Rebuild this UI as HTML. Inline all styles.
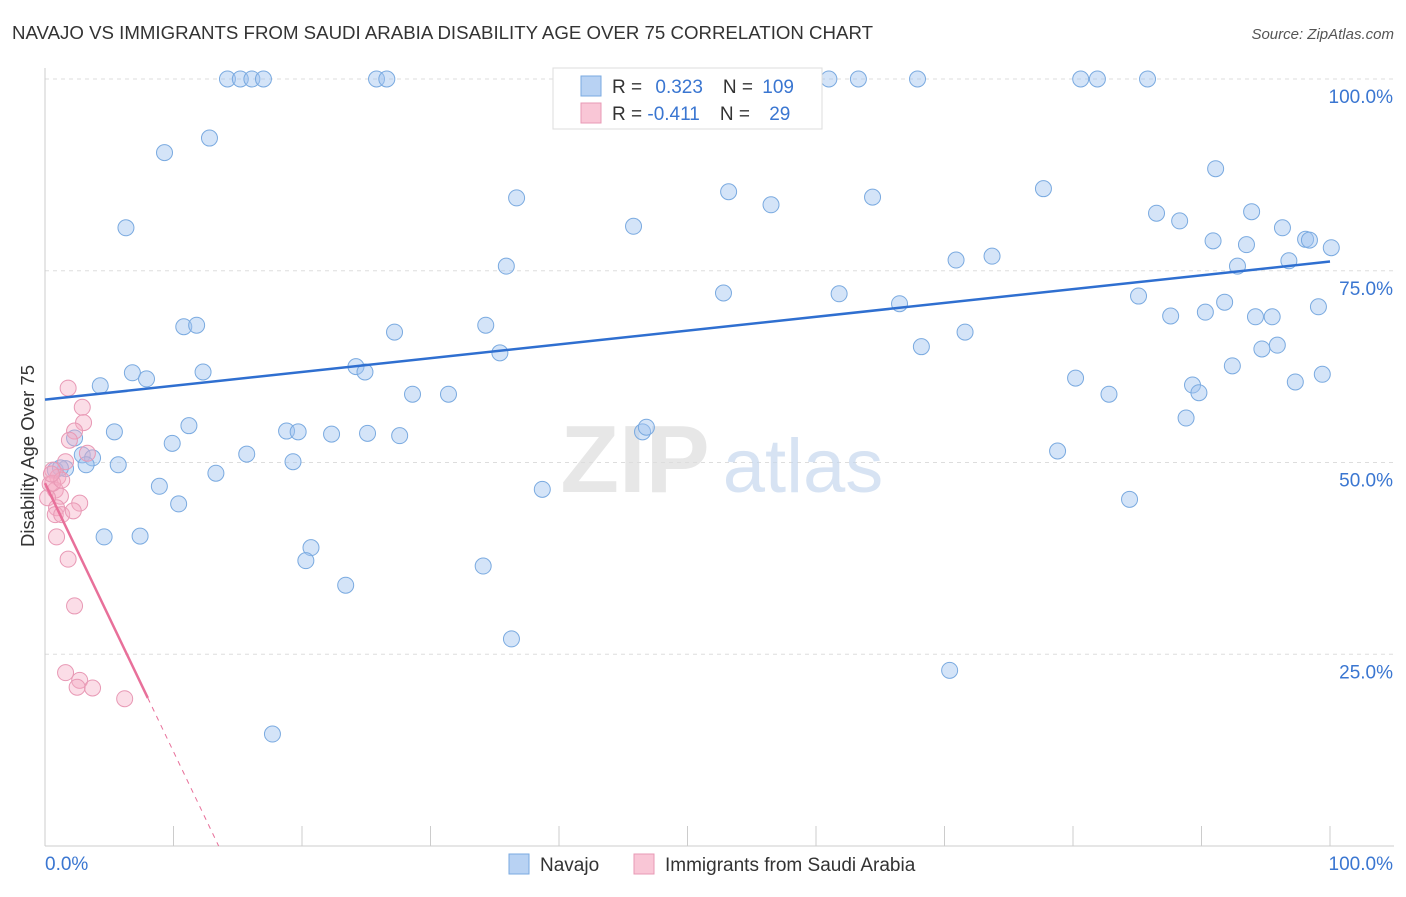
<!DOCTYPE html>
<html><head><meta charset="utf-8">
<style>
body{margin:0;background:#fff;font-family:"Liberation Sans",sans-serif;}
svg text{font-family:"Liberation Sans",sans-serif;}
</style></head>
<body>
<svg id="chart" width="1406" height="892" viewBox="0 0 1406 892">
<text x="12" y="39" font-size="18" fill="#333" textLength="861" lengthAdjust="spacingAndGlyphs">NAVAJO VS IMMIGRANTS FROM SAUDI ARABIA DISABILITY AGE OVER 75 CORRELATION CHART</text>
<text x="1394" y="39" font-size="15" fill="#555" font-style="italic" text-anchor="end">Source: ZipAtlas.com</text>
<g id="grid"></g>
<g id="watermark">
<text x="635" y="492" font-size="96" fill="#ddd" font-family="Liberation Serif" text-anchor="middle" font-weight="bold" opacity="0.7">ZIP</text>
<text x="803" y="492" font-size="76" fill="#c7d8ee" text-anchor="middle" opacity="0.7">atlas</text>
</g>
<g id="axes"></g>
<g id="marks"></g>
<text transform="translate(34,456) rotate(-90)" font-size="18.5" fill="#333" text-anchor="middle">Disability Age Over 75</text>
<g>
<rect x="553" y="68" width="269" height="61" fill="#fff" stroke="#ddd"/>
<rect x="581" y="76" width="20" height="20" fill="#b8d2f3" stroke="#7aaae0"/>
<rect x="581" y="103" width="20" height="20" fill="#f9c6d6" stroke="#e899b5"/>
<text x="612" y="93" font-size="19" fill="#333">R = <tspan fill="#3a76d1" dx="8">0.323</tspan><tspan dx="20" fill="#333">N = </tspan><tspan fill="#3a76d1" dx="4">109</tspan></text>
<text x="612" y="120" font-size="19" fill="#333">R = <tspan fill="#3a76d1">-0.411</tspan><tspan dx="20" fill="#333">N = </tspan><tspan fill="#3a76d1" dx="14">29</tspan></text>
</g>
<g>
<rect x="509" y="854" width="20" height="20" fill="#b8d2f3" stroke="#7aaae0"/>
<text x="540" y="871" font-size="19" fill="#333">Navajo</text>
<rect x="634" y="854" width="20" height="20" fill="#f9c6d6" stroke="#e899b5"/>
<text x="665" y="871" font-size="19" fill="#333">Immigrants from Saudi Arabia</text>
</g>
</svg>
<script>
const yTicks=[25,50,75,100];
const yTickLabels=["25.0%","50.0%","75.0%","100.0%"];
const xTicks=[0,10,20,30,40,50,60,70,80,90,100];
const navajoX=[14.2,15.2,16.1,17.0,25.8,26.6,40.6,61.0,63.3,67.9,80.6,81.9,85.8,12.8,9.3,6.3,36.7,53.2,56.5,64.4,77.7,91.1,45.8,86.5,88.3,93.9,90.9,93.5,96.3,98.1,98.4,100.1,35.9,70.9,73.7,92.8,96.8,52.8,61.8,66.5,85.1,91.8,87.6,90.3,94.2,95.5,99.1,10.8,11.8,27.2,34.3,71.6,68.2,94.7,95.9,35.4,92.4,99.4,97.3,24.2,24.9,6.8,7.9,12.3,4.3,28.6,31.4,80.2,82.8,89.3,89.8,88.8,5.4,11.2,18.8,19.7,22.3,25.1,27.6,46.5,46.8,9.9,2.3,15.7,19.3,2.9,3.7,3.2,5.7,1.6,0.8,1.2,13.3,78.8,8.9,38.7,84.4,10.4,4.6,7.4,20.7,20.3,23.4,34.1,36.3,70.4,17.7];
const navajoY=[100,100,100,100,100,100,100,100,100,100,100,100,100,92.3,90.4,80.6,84.5,85.3,83.6,84.6,85.7,88.3,80.8,82.5,81.5,82.7,78.9,78.4,80.6,79.1,79.0,78.0,75.6,76.4,76.9,75.6,76.3,72.1,72.0,70.7,71.7,70.9,69.1,69.6,69.0,69.0,70.3,67.7,67.9,67.0,67.9,67.0,65.1,64.8,65.3,64.3,62.6,61.5,60.5,62.5,61.8,61.7,60.9,61.8,60.0,58.9,58.9,61.0,58.9,60.1,59.1,55.8,54.0,54.8,54.1,54.0,53.7,53.8,53.5,54.0,54.6,52.5,53.2,51.1,50.1,51.0,50.6,49.7,49.7,49.2,49.0,49.3,48.6,51.5,46.9,46.5,45.2,44.6,40.3,40.4,38.9,37.2,34.0,36.5,27.0,22.9,14.6];
const saudiX=[1.8,2.9,3.0,2.3,1.9,3.3,1.6,0.6,1.0,0.4,0.8,1.2,0.2,2.7,0.9,0.8,1.3,2.2,0.9,1.8,2.3,1.6,2.7,2.5,3.7,6.2,0.6,1.3,0.5];
const saudiY=[59.7,57.2,55.2,54.1,52.9,51.2,50.1,49.0,48.1,47.2,46.4,45.6,45.4,44.7,44.1,43.2,43.2,43.7,40.3,37.4,31.3,22.6,21.6,20.7,20.6,19.2,47.3,47.7,48.5];
const navajoTrend=[58.2,76.2];
const saudiTrend=[47.3,-3.5];
const saudiSolidEnd=8;

const X0=45,X1=1330,Y0=846,Y100=79;
const sx=v=>X0+(X1-X0)*v/100;
const sy=v=>Y0-(Y0-Y100)*v/100;
const NS="http://www.w3.org/2000/svg";
function mk(tag,attrs,parent){const e=document.createElementNS(NS,tag);for(const k in attrs)e.setAttribute(k,attrs[k]);parent.appendChild(e);return e;}
const grid=document.getElementById('grid'),axes=document.getElementById('axes'),marks=document.getElementById('marks');
yTicks.forEach((t,i)=>{
  const l=mk('line',{x1:45,x2:1394,y1:sy(t),y2:sy(t),stroke:'#ddd','stroke-dasharray':'4,4'},grid);
  
  
  const tx=mk('text',{x:1393,y:sy(t)+24,'font-size':19,fill:'#3a76d1','text-anchor':'end'},axes);
  tx.textContent=yTickLabels[i];
  
  
});
const ax=mk('line',{x1:45,x2:45,y1:68,y2:846,stroke:'#ccc'},axes);


const bx=mk('line',{x1:45,x2:1394,y1:846,y2:846,stroke:'#ccc'},axes);


xTicks.forEach(t=>{
  const l=mk('line',{x1:sx(t),x2:sx(t),y1:826,y2:846,stroke:'#ccc'},axes);
  
  
});
const xl0=mk('text',{x:45,y:870,'font-size':19,fill:'#3a76d1'},axes);xl0.textContent='0.0%';


const xl1=mk('text',{x:1393,y:870,'font-size':19,fill:'#3a76d1','text-anchor':'end'},axes);xl1.textContent='100.0%';



navajoX.forEach((x,i)=>{
  const c=mk('circle',{cx:sx(x),cy:sy(navajoY[i]),r:8,fill:'rgba(160,196,240,0.45)',stroke:'#7aaae0','stroke-width':1},marks);
  
  
});
saudiX.forEach((x,i)=>{
  const c=mk('circle',{cx:sx(x),cy:sy(saudiY[i]),r:8,fill:'rgba(245,170,195,0.4)',stroke:'#e899b5','stroke-width':1},marks);
  
  
});
const nt=mk('line',{x1:sx(0),y1:sy(navajoTrend[0]),x2:sx(100),y2:sy(navajoTrend[1]),stroke:'#2f6fd0','stroke-width':2.5},marks);


const sf=x=>saudiTrend[0]+saudiTrend[1]*x;
const xEnd=-saudiTrend[0]/saudiTrend[1];
const st=mk('line',{x1:sx(0),y1:sy(sf(0)),x2:sx(saudiSolidEnd),y2:sy(sf(saudiSolidEnd)),stroke:'#e8709a','stroke-width':2.5},marks);


const sd=mk('line',{x1:sx(saudiSolidEnd),y1:sy(sf(saudiSolidEnd)),x2:sx(xEnd),y2:sy(0),stroke:'#e8709a','stroke-width':1,'stroke-dasharray':'5,5'},marks);


</script>
</body></html>
